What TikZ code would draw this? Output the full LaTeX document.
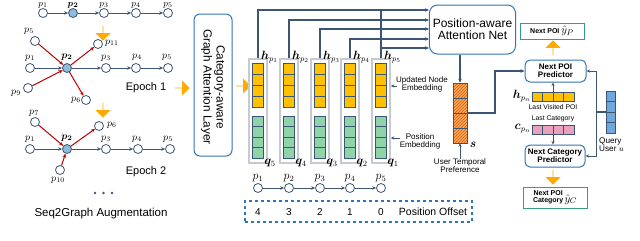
\documentclass[tikz,border=0pt]{standalone}
\usepackage{fontspec}
\setmainfont{Liberation Sans}
\usepackage{amsmath,bm}
\usetikzlibrary{arrows.meta,shapes.arrows,patterns,calc}
\definecolor{edgec}{HTML}{3C5573}
\definecolor{redc}{HTML}{C00000}
\definecolor{nodeb}{HTML}{8DBDD8}
\definecolor{orangec}{HTML}{FFAA00}
\definecolor{yellc}{HTML}{FFC000}
\definecolor{greenc}{HTML}{8FD3A8}
\definecolor{boxb}{HTML}{2E75B6}
\definecolor{tealc}{HTML}{3A9A8A}
\definecolor{pinkc}{HTML}{EBA0C0}
\definecolor{qbluec}{HTML}{6FA8DC}
\definecolor{hatchbg}{HTML}{F9A65A}
\definecolor{hatchfg}{HTML}{D8600C}
\definecolor{framec}{HTML}{C5CBD1}
\newcommand{\fs}[1]{\fontsize{#1}{#1}\selectfont}
\begin{document}
\begin{tikzpicture}[x=1pt,y=-1pt,
  pn/.style={circle,draw=edgec,fill=white,line width=0.8pt,inner sep=0pt,minimum size=9pt},
  pnf/.style={pn,fill=nodeb},
  seqe/.style={draw=edgec,line width=1pt,-{Stealth[length=4pt,width=3.5pt]}},
  rede/.style={draw=redc,line width=1pt,-{Stealth[length=4pt,width=3.5pt]}},
  plab/.style={inner sep=0pt,font=\fs{10}},
  oarr/.style={single arrow,fill=orangec,draw=none,inner sep=0pt,minimum width=15pt,minimum height=15pt,single arrow head extend=3.5pt},
  frm/.style={draw=framec,line width=1.5pt,fill=white,minimum width=18pt,minimum height=104pt,inner sep=0pt},
  cell/.style={draw=edgec,line width=0.6pt},
  bus/.style={draw=edgec,line width=1.1pt},
  busarr/.style={bus,-{Stealth[length=4pt,width=3.5pt]}},
  thin/.style={draw=edgec,line width=0.8pt,-{Stealth[length=3.5pt,width=3pt]}},
  rbox/.style={draw=boxb,line width=1pt,rounded corners=6pt,align=center},
  tbox/.style={draw=tealc,line width=1pt,align=center},
  txt/.style={inner sep=0pt,align=center}
]
\useasboundingbox (0,0) rectangle (640,241);

% ---------- top sequence ----------
\node[pn] (t1) at (43,13) {};
\node[pnf] (t2) at (73,13) {};
\node[pn] (t3) at (104,13) {};
\node[pn] (t4) at (136,13) {};
\node[pn] (t5) at (168,13) {};
\node[plab,font=\fs{9.5}] (lt1) at (43,5) {$p_1$};
\node[plab,font=\fs{9.5}] (lt2) at (73,5) {$\bm{p_2}$};
\node[plab,font=\fs{9.5}] (lt3) at (104,5) {$p_3$};
\node[plab,font=\fs{9.5}] (lt4) at (136,5) {$p_4$};
\node[plab,font=\fs{9.5}] (lt5) at (168,5) {$p_5$};
\draw[seqe] (t1) -- (t2);
\draw[seqe] (t2) -- (t3);
\draw[seqe] (t3) -- (t4);
\draw[seqe] (t4) -- (t5);

\node[oarr,rotate=-90] (da1) at (103,33) {};

% ---------- epoch 1 ----------
\node[pn] (a5) at (35,41) {};
\node[pn] (a11) at (98,44) {};
\node[pn] (a1) at (30,68) {};
\node[pnf] (a2) at (67,68) {};
\node[pn] (a3) at (106,68) {};
\node[pn] (a4) at (136,68) {};
\node[pn] (a5b) at (168,68) {};
\node[pn] (a9) at (28,88) {};
\node[pn] (a6) at (86,100) {};
\node[plab] (la5) at (29,31) {$p_5$};
\node[plab,anchor=west] (la11) at (105,43) {$p_{11}$};
\node[plab] (la1) at (30,58) {$p_1$};
\node[plab] (la2) at (67,57) {$\bm{p_2}$};
\node[plab] (la3) at (106,58) {$p_3$};
\node[plab] (la4) at (137,57) {$p_4$};
\node[plab] (la5b) at (167,57) {$p_5$};
\node[plab] (la9) at (16,93) {$p_9$};
\node[plab] (la6) at (76,100) {$p_6$};
\draw[seqe] (a1) -- (a2);
\draw[seqe] (a2) -- (a3);
\draw[seqe] (a3) -- (a4);
\draw[seqe] (a4) -- (a5b);
\draw[rede] (a5) -- (a2);
\draw[rede] (a2) -- (a11);
\draw[rede] (a9) -- (a2);
\draw[rede] (a2) -- (a6);
\node[txt,font=\fs{11}] (ep1) at (146,88) {Epoch 1};

\node[oarr,rotate=-90] (da2) at (103,110) {};
\node[oarr] (ra1) at (182,88) {};

% ---------- epoch 2 ----------
\node[pn] (b7) at (35,122) {};
\node[pn] (b6) at (99,126) {};
\node[pn] (bb1) at (30,149) {};
\node[pnf] (bb2) at (67,149) {};
\node[pn] (bb3) at (106,149) {};
\node[pn] (bb4) at (138,149) {};
\node[pn] (bb5) at (170,149) {};
\node[pn] (b10) at (60,170) {};
\node[plab] (lb7) at (34,113) {$p_7$};
\node[plab,anchor=west] (lb6) at (107,125) {$p_6$};
\node[plab] (lbb1) at (30,139) {$p_1$};
\node[plab] (lbb2) at (67,138) {$\bm{p_2}$};
\node[plab] (lbb3) at (106,139) {$p_3$};
\node[plab] (lbb4) at (137,139) {$p_4$};
\node[plab] (lbb5) at (168,139) {$p_5$};
\node[plab] (lb10) at (58,180) {$p_{10}$};
\draw[seqe] (bb1) -- (bb2);
\draw[seqe] (bb2) -- (bb3);
\draw[seqe] (bb3) -- (bb4);
\draw[seqe] (bb4) -- (bb5);
\draw[rede] (b7) -- (bb2);
\draw[rede] (bb2) -- (b6);
\draw[rede] (b10) -- (bb2);
\node[txt,font=\fs{11}] (ep2) at (146,172) {Epoch 2};

\fill[edgec] (95,193) circle (1.4) (103.5,193) circle (1.4) (112,193) circle (1.4);
\node[txt,font=\fs{11.5}] (s2g) at (101,214) {Seq2Graph Augmentation};

% ---------- category-aware box ----------
\node[rbox,minimum width=38pt,minimum height=142pt] (cat) at (213,85) {};
\node[txt,rotate=-90,font=\fs{11.8},align=center] (cattxt) at (213,87) {Category-aware\\[1pt]Graph Attention Layer};

\node[oarr] (ra2) at (243,86) {};

% ---------- attention net ----------
\node[rbox,minimum width=85pt,minimum height=49pt,rounded corners=8pt,font=\fs{12}] (att) at (472.5,29.5) {Position-aware\\Attention Net};

% ---------- columns ----------
\foreach \cx [count=\k] in {258,289,320,350,381} {
  \node[frm] (c\k) at (\cx,111) {};
  \foreach \j in {0,...,3} {
    \draw[cell,fill=yellc] (\cx-5.5,63+11*\j) rectangle ++(11,11);
    \draw[cell,fill=greenc] (\cx-5.5,116+10.5*\j) rectangle ++(11,10.5);
  }
  \pgfmathtruncatemacro\qq{6-\k}
  \pgfmathtruncatemacro\off{5-\k}
  \node[inner sep=0pt,anchor=south west,font=\fs{12}] (h\k) at (\cx+3,63) {$\bm{h}_{p_{\k}}$};
  \node[inner sep=0pt,font=\fs{12}] (q\k) at (\cx+12,163) {$\bm{q}_{\qq}$};
  \node[pn] (s\k) at (\cx,188) {};
  \node[plab,font=\fs{12}] (ls\k) at (\cx,178) {$p_{\k}$};
  \node[txt,font=\fs{10}] (o\k) at (\cx,212) {\off};
}
\draw[seqe] (s1) -- (s2);
\draw[seqe] (s2) -- (s3);
\draw[seqe] (s3) -- (s4);
\draw[seqe] (s4) -- (s5);

\draw[busarr] (c1.north) |- ([yshift=19.5pt]att.west);
\draw[busarr] (c2.north) |- ([yshift=9.5pt]att.west);
\draw[busarr] (c3.north) |- ([yshift=0.5pt]att.west);
\draw[busarr] (c4.north) |- ([yshift=-9.5pt]att.west);
\draw[busarr] (c5.north) |- ([yshift=-18.5pt]att.west);
\draw[bus] (c5.north) -- ++(0,-49);

% position offset
\node[draw=boxb,dashed,line width=1.2pt,minimum width=227pt,minimum height=21pt] (pob) at (358.5,211.5) {};
\node[txt,font=\fs{10.5}] (pot) at (433,212) {Position Offset};

% embeddings labels
\node[txt,font=\fs{8}] (une) at (422,84) {Updated Node\\Embedding};
\draw[thin] (397,86) -- (c5.east |- 0,86);
\node[txt,font=\fs{8}] (pe) at (420,141) {Position\\Embedding};
\draw[thin] (400,138) -- (c5.east |- 0,138);

% ---------- user temporal preference ----------
\node[inner sep=0pt,minimum width=14pt,minimum height=60pt] (svec) at (460,113) {};
\foreach \j in {0,...,3} {
  \fill[hatchbg] (453,83+15*\j) rectangle ++(14,15);
  \fill[pattern=north east lines,pattern color=hatchfg] (453,83+15*\j) rectangle ++(14,15);
  \draw[cell] (453,83+15*\j) rectangle ++(14,15);
}
\node[inner sep=0pt,font=\fs{12}] (slab) at (473,145) {$\bm{s}$};
\draw[busarr] (att.south -| svec) -- (svec.north);
\node[txt,font=\fs{8}] (utp) at (460,166) {User Temporal\\Preference};
\draw[thin] (utp.north -| svec) -- (svec.south);

% ---------- right panel ----------
\node[tbox,minimum width=64pt,minimum height=16pt,inner sep=0pt] (yp) at (552,31) {\fs{7}\bfseries Next POI \fs{11}$\hat{y}_P$};
\node[rbox,minimum width=61pt,minimum height=22pt,inner sep=0pt,font=\fs{8}\bfseries,rounded corners=5pt] (npp) at (555.5,71) {Next POI\\Predictor};
\node[oarr,rotate=90] (ua) at (553,48) {};
\coordinate (tt) at (495,113);
\draw[busarr] (svec.east) -- (tt) |- (npp.west);

\foreach \j in {0,...,3} {
  \draw[cell,fill=yellc] (532+10.5*\j,92) rectangle ++(10.5,9.5);
  \draw[cell,fill=pinkc] (532+10.5*\j,125) rectangle ++(10.5,9.5);
  \draw[cell,fill=qbluec] (606,91+10.5*\j) rectangle ++(9.5,10.5);
}
\node[inner sep=0pt,minimum width=42pt,minimum height=9.5pt] (hv) at (553,96.75) {};
\node[inner sep=0pt,minimum width=42pt,minimum height=9.5pt] (cv) at (553,129.75) {};
\node[inner sep=0pt,minimum width=9.5pt,minimum height=42pt] (qv) at (610.75,112) {};
\node[inner sep=0pt,anchor=east,font=\fs{12}] (hl) at (531,96) {$\bm{h}_{p_n}$};
\node[inner sep=0pt,anchor=east,font=\fs{12}] (cl) at (531,129) {$\bm{c}_{p_n}$};
\node[txt,font=\fs{6.8}] (lvp) at (553,107.5) {Last Visited POI};
\node[txt,font=\fs{6.8}] (lc) at (553,119) {Last Category};
\draw[thin] (hv.north) -- (npp.south -| hv.north);

\node[rbox,minimum width=60pt,minimum height=22pt,inner sep=0pt,font=\fs{8}\bfseries,rounded corners=5pt] (ncp) at (555,156) {Next Category\\Predictor};
\draw[thin] (cv.south) -- (ncp.north -| cv.south);
\node[oarr,rotate=-90] (da3) at (553,177) {};
\node[tbox,minimum width=64pt,minimum height=21pt,inner sep=0pt] (yc) at (555,197.5) {\fs{7}\bfseries\begin{tabular}{@{}c@{}}Next POI\\Category\end{tabular}\,\fs{11}\raisebox{-3pt}{$\hat{y}_C$}};

\node[txt,align=left,font=\fs{8.2},anchor=west] (qu) at (599,145) {Query\\User $u$};
\coordinate (qt) at (596,112);
\draw[bus] (qv.west) -- (qt);
\draw[thin] (qt) |- (npp.east);
\draw[thin] (qt) |- (ncp.east);
\end{tikzpicture}
\end{document}
